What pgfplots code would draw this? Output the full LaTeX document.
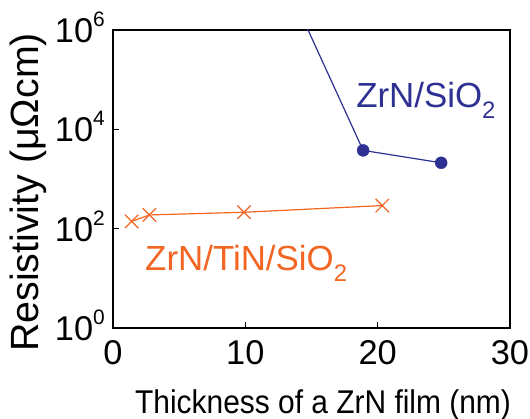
\documentclass[border=0pt]{standalone}
\usepackage{fontspec}
\setmainfont{Liberation Sans}
\newfontfamily\narrowfont{Liberation Sans}[FakeStretch=0.91]
\usepackage{pgfplots}
\pgfplotsset{compat=1.18}
\definecolor{zblue}{RGB}{46,49,146}
\definecolor{zorange}{RGB}{242,101,34}
\newcommand{\sub}[1]{\raisebox{-11bp}{\fontsize{24}{24}\selectfont #1}}
\newcommand{\tsup}[1]{\raisebox{16bp}{\fontsize{21}{21}\selectfont #1}}
\begin{document}
\begin{tikzpicture}
\begin{axis}[
 scale only axis, width=397bp, height=298bp,
 xmin=0, xmax=30, ymode=log, ymin=1, ymax=1e6,
 xtick={0,10,20,30}, ytick={1,100,10000,1000000},
 yticklabels={10\tsup{0},10\tsup{2},10\tsup{4},10\tsup{6}},
 yminorticks=false,
 tick align=inside, xtick pos=left, ytick pos=left,
 major tick length=6bp,
 axis line style={line width=1.6bp},
 every tick/.style={black, line width=1bp},
 ticklabel style={font=\fontsize{34.5}{34.5}\selectfont, inner sep=0pt},
 xticklabel style={anchor=north, yshift=-12bp},
 yticklabel style={anchor=base east, xshift=-8bp, yshift=-12.5bp},
 /pgf/number format/assume math mode=true,
 xlabel={Thickness of a ZrN film (nm)},
 ylabel={Resistivity (μΩcm)},
 xlabel style={font=\narrowfont\fontsize{33}{33}\selectfont, at={(axis description cs:0.529,0)}, anchor=base, yshift=-85bp, inner sep=0pt},
 ylabel style={font=\fontsize{39.5}{39.5}\selectfont, at={(axis description cs:-0.1864,0.455)}, anchor=base, inner sep=0pt},
]
\addplot[zblue, line width=1.2bp, no marks] coordinates {(14,2.7e6) (18.9,3770) (24.8,2120)};
\addplot[zblue, only marks, mark=*, mark size=6bp] coordinates {(18.9,3770) (24.8,2120)};
\addplot[zorange, line width=1.2bp, mark=x, mark size=9.5bp, mark options={line width=1.2bp}] coordinates {(1.41,140) (2.75,189) (9.9,214) (20.35,292)};
\node[zblue, anchor=base west, inner sep=0pt, font=\fontsize{35}{35}\selectfont] at (axis cs:18.37,28000) {ZrN/SiO\sub{2}};
\node[zorange, anchor=base west, inner sep=0pt, font=\fontsize{35}{35}\selectfont] at (axis cs:2.42,14.06) {ZrN/TiN/SiO\sub{2}};
\end{axis}
\pgfresetboundingbox
\path[use as bounding box] (-113bp,-91bp) rectangle (417bp,328bp);
\end{tikzpicture}
\end{document}
